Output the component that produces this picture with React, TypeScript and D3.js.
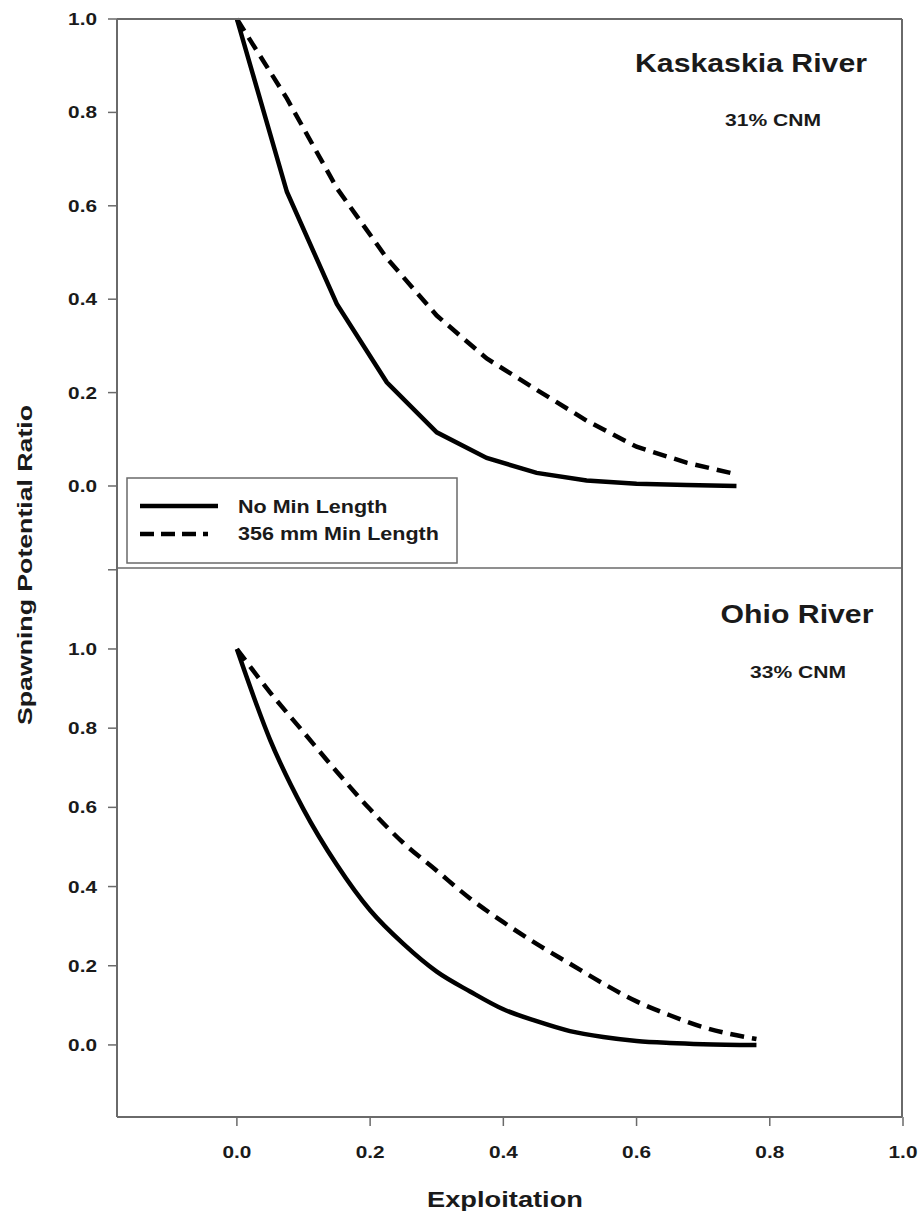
import React from 'react';
import * as d3 from 'd3';

// Kaskaskia River (upper panel)
const kaskExploitation = [0, 0.075, 0.15, 0.225, 0.3, 0.375, 0.45, 0.525, 0.6, 0.675, 0.75];
const kaskNoMin = [1.0, 0.63, 0.39, 0.222, 0.115, 0.06, 0.028, 0.012, 0.005, 0.002, 0.0];
const kask356 = [1.0, 0.83, 0.638, 0.488, 0.365, 0.273, 0.206, 0.14, 0.084, 0.05, 0.025];

// Ohio River (lower panel)
const ohioExploitation = [0, 0.05, 0.1, 0.15, 0.2, 0.25, 0.3, 0.35, 0.4, 0.45, 0.5, 0.55, 0.6, 0.65, 0.7, 0.78];
const ohioNoMin = [1.0, 0.77, 0.595, 0.455, 0.34, 0.255, 0.185, 0.135, 0.09, 0.06, 0.035, 0.02, 0.01, 0.005, 0.002, 0.0];
const ohio356 = [1.0, 0.89, 0.79, 0.69, 0.595, 0.51, 0.44, 0.37, 0.31, 0.255, 0.205, 0.155, 0.11, 0.075, 0.045, 0.015];

const xTicks = [0, 0.2, 0.4, 0.6, 0.8, 1.0];
const yTicks = [0, 0.2, 0.4, 0.6, 0.8, 1.0];
const legendLabels = ['No Min Length', '356 mm Min Length'];

const panels = [
  { river: 'Kaskaskia River', cnm: '31% CNM', x: kaskExploitation, noMin: kaskNoMin, min356: kask356 },
  { river: 'Ohio River', cnm: '33% CNM', x: ohioExploitation, noMin: ohioNoMin, min356: ohio356 },
];

const W = 919;
const H = 1211;
const left = 117;
const right = 903;
const font = '"Liberation Sans", Arial, sans-serif';
const axisColor = '#6a6a6a';

// the original lettering is wide, so text gets stretched along its baseline
function Label({ x, y, size, anchor = 'start', rotate = 0, sx = 1.25, fill = '#1a1a1a', children }: any) {
  return (
    <text transform={`translate(${x},${y}) rotate(${rotate}) scale(${sx},1)`} textAnchor={anchor}
      fontSize={size} fontWeight="bold" fill={fill}>
      {children}
    </text>
  );
}

export default function App() {
  const x = d3.scaleLinear().domain([-0.18, 1.0]).range([left, right]);
  const yTop = d3.scaleLinear().domain([-0.1756, 1.0]).range([568, 19]);
  const yBot = d3.scaleLinear().domain([-0.182, 1.2045]).range([1117, 568]);
  const scales = [yTop, yBot];
  const titlePos = [{ tx: 751, ty: 72, cx: 773, cy: 126 }, { tx: 797, ty: 623, cx: 798, cy: 678 }];

  return (
    <svg width={W} height={H} style={{ position: 'absolute', left: 0, top: 0, background: '#fff' }} fontFamily={font}>
      {panels.map((p, i) => {
        const y = scales[i];
        const line = d3.line<number>().x((d, j) => x(p.x[j])).y(d => y(d)).curve(i === 0 ? d3.curveLinear : d3.curveMonotoneX);
        const ticks = i === 0 ? yTicks : yTicks.concat([1.2]);
        const tp = titlePos[i];
        return (
          <g key={p.river}>
            {ticks.map(t => (
              <g key={t}>
                <line x1={left - 9} x2={left} y1={y(t)} y2={y(t)} stroke={axisColor} strokeWidth={1.5} />
                {t <= 1.0 && (
                  <Label x={97} y={y(t) + 6} size={16} anchor="end" sx={1.3}>{d3.format('.1f')(t)}</Label>
                )}
              </g>
            ))}
            <path d={line(p.min356) || ''} fill="none" stroke="#000" strokeWidth={4.5} strokeDasharray="14,8" />
            <path d={line(p.noMin) || ''} fill="none" stroke="#000" strokeWidth={4.5} />
            <Label x={tp.tx} y={tp.ty} size={25} anchor="middle" sx={1.21}>{p.river}</Label>
            <Label x={tp.cx} y={tp.cy} size={17} anchor="middle" sx={1.24}>{p.cnm}</Label>
          </g>
        );
      })}

      {/* frame */}
      <line x1={left} x2={left} y1={19} y2={1117} stroke={axisColor} strokeWidth={2} />
      <line x1={right - 1} x2={right - 1} y1={19} y2={1117} stroke={axisColor} strokeWidth={2} />
      <line x1={left} x2={right - 1} y1={19} y2={19} stroke={axisColor} strokeWidth={2} />
      <line x1={left} x2={right - 1} y1={568} y2={568} stroke={axisColor} strokeWidth={1.5} />
      <line x1={left} x2={right - 1} y1={1117} y2={1117} stroke={axisColor} strokeWidth={2} />

      {xTicks.map(t => (
        <g key={t}>
          <line x1={x(t)} x2={x(t)} y1={1117} y2={1126} stroke={axisColor} strokeWidth={1.5} />
          <Label x={x(t)} y={1158} size={16} anchor="middle" sx={1.3}>{d3.format('.1f')(t)}</Label>
        </g>
      ))}

      <Label x={505} y={1207} size={22} anchor="middle" sx={1.24}>Exploitation</Label>
      <Label x={32} y={565} size={21} anchor="middle" rotate={-90} sx={1.27}>Spawning Potential Ratio</Label>

      {/* legend */}
      <rect x={127} y={478} width={330} height={85} fill="#fff" stroke={axisColor} strokeWidth={1.5} />
      {legendLabels.map((l, i) => (
        <g key={l}>
          <line x1={140} x2={i === 0 ? 218 : 208} y1={506 + i * 28} y2={506 + i * 28} stroke="#000" strokeWidth={4.5}
            strokeDasharray={i === 0 ? undefined : '14,7'} />
          <Label x={238} y={513 + i * 27} size={17.5} sx={1.23}>{l}</Label>
        </g>
      ))}
    </svg>
  );
}
